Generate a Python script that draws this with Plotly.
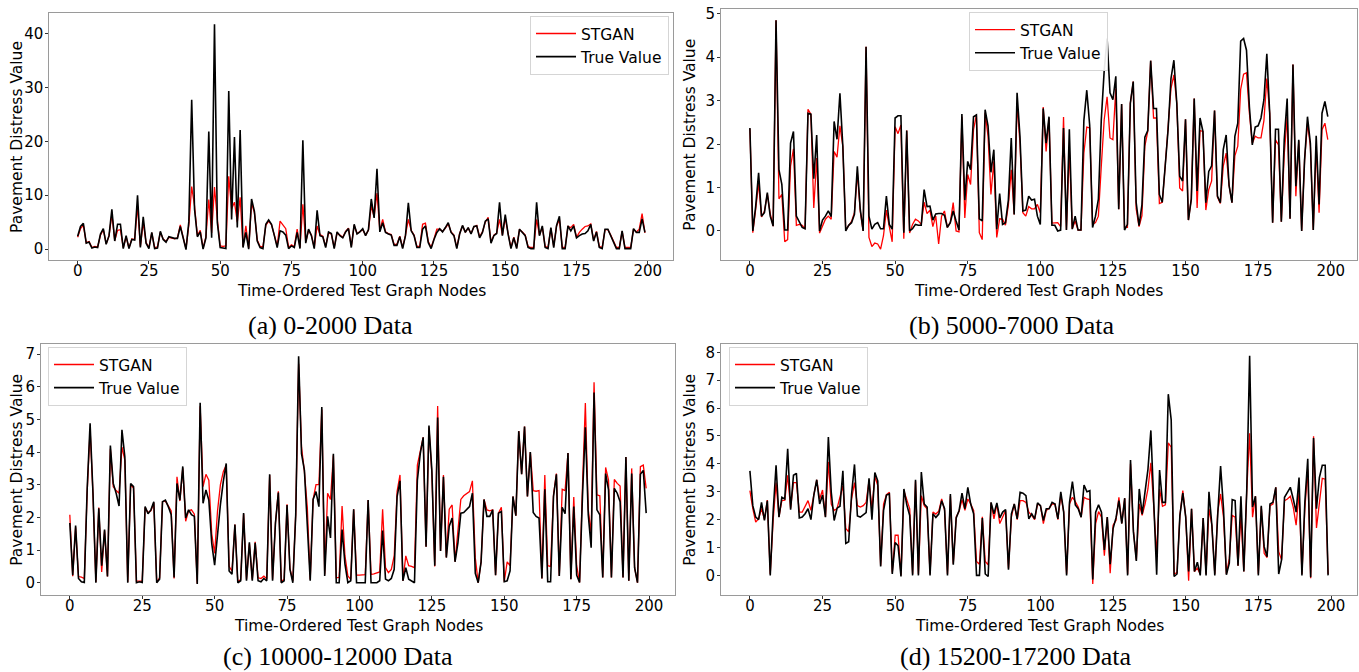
import plotly.graph_objects as go

nodes = list(range(200))
x_ticks = [0, 25, 50, 75, 100, 125, 150, 175, 200]

# (a) 0-2000 Data
true_a = [
    2.4, 4.2, 4.8, 1.1, 1.3, 0.2, 0.4, 0.3, 2.8, 3.8,
    0.9, 2.5, 7.4, 1.5, 4.6, 4.6, 0.1, 2.5, 0.1, 1.8,
    1.7, 10.0, 0.3, 6.0, 1.1, 0.1, 3.1, 0.1, 0.2, 3.3,
    1.8, 1.3, 2.3, 2.1, 2.0, 2.0, 4.2, 2.1, -0.1, 5.1,
    27.7, 7.4, 2.3, 3.2, 0.0, 2.1, 21.8, 2.1, 41.7, 4.9,
    0.3, 0.2, 0.1, 29.3, 5.5, 20.8, 4.0, 22.1, 0.3, 3.1,
    0.0, 9.3, 7.0, 1.5, 0.3, 0.1, 4.6, 5.4, 4.6, 2.5,
    0.3, 3.4, 3.2, 2.6, 0.1, 0.6, 0.3, 3.1, 0.1, 20.2,
    1.1, 3.7, 2.5, 0.1, 7.2, 2.5, 2.3, 0.3, 3.2, 2.9,
    0.1, 3.2, 2.5, 2.1, 3.2, 3.8, 0.3, 4.6, 2.8, 3.2,
    3.8, 2.5, 3.6, 9.3, 5.8, 14.9, 3.2, 4.9, 3.1, 2.8,
    2.6, 0.7, 0.7, 2.3, 0.1, 2.5, 8.6, 3.4, 2.5, 0.3,
    0.3, 3.7, 4.3, 1.2, 0.1, 1.8, 3.1, 3.8, 3.2, 4.0,
    4.9, 3.1, 2.5, 0.1, 2.8, 4.4, 3.1, 4.0, 2.8, 4.2,
    4.3, 2.1, 3.1, 5.2, 5.6, 1.1, 2.5, 2.9, 8.7, 2.5,
    6.4, 2.8, 0.1, 2.1, 0.1, 3.7, 3.1, 2.5, 0.3, 0.1,
    0.1, 8.7, 2.5, 4.3, 0.3, 0.1, 4.0, 0.3, 4.4, 6.1,
    0.1, 0.1, 4.3, 3.4, 4.3, 2.1, 2.5, 2.8, 2.9, 3.4,
    4.6, 1.5, 3.2, 0.3, 0.1, 3.7, 3.7, 2.5, 1.2, 0.1,
    0.1, 3.4, 0.1, 0.1, 0.1, 3.8, 3.1, 3.1, 5.6, 3.1,
]
stgan_a = [
    2.2, 3.8, 4.4, 1.2, 1.4, 0.3, 0.5, 0.4, 2.6, 3.6,
    1.0, 2.4, 6.5, 1.6, 3.5, 3.6, 0.3, 2.3, 0.2, 1.9,
    1.8, 8.0, 0.5, 5.0, 1.2, 0.3, 3.0, 0.3, 0.4, 3.1,
    1.9, 1.4, 2.2, 2.0, 1.9, 2.1, 4.5, 2.2, 0.1, 4.5,
    11.6, 8.0, 2.5, 3.5, 0.2, 2.3, 9.2, 3.0, 11.5, 5.5,
    0.6, 0.5, 0.6, 13.5, 7.5, 8.7, 5.0, 9.6, 0.5, 4.3,
    0.2, 8.5, 6.8, 1.7, 0.5, 0.4, 4.4, 5.2, 4.5, 2.6,
    0.5, 5.2, 4.6, 3.8, 0.3, 0.8, 0.5, 3.7, 0.3, 8.3,
    1.3, 3.5, 2.6, 0.3, 4.3, 2.7, 2.4, 0.5, 3.0, 2.8,
    0.3, 3.0, 2.6, 2.2, 3.3, 3.9, 0.5, 4.4, 2.9, 3.3,
    3.6, 2.6, 3.5, 8.0, 6.0, 10.4, 3.5, 5.5, 3.2, 2.9,
    2.7, 0.9, 0.9, 2.4, 0.3, 2.6, 5.5, 3.5, 2.6, 0.5,
    0.5, 4.6, 4.8, 1.4, 0.3, 1.9, 3.7, 3.7, 3.3, 3.9,
    4.7, 3.2, 2.6, 0.3, 2.9, 4.3, 3.2, 3.9, 2.9, 4.1,
    4.4, 2.3, 3.2, 5.0, 5.9, 1.3, 2.6, 3.0, 5.5, 2.6,
    5.8, 2.9, 0.3, 2.2, 0.3, 3.6, 3.2, 2.6, 0.5, 0.3,
    0.3, 5.5, 2.6, 4.1, 0.5, 0.3, 3.9, 0.5, 4.3, 5.5,
    0.3, 0.3, 4.2, 4.0, 4.6, 2.2, 3.1, 3.7, 4.2, 4.3,
    4.7, 1.6, 3.3, 0.5, 0.3, 3.6, 3.6, 2.6, 1.3, 0.3,
    0.3, 3.3, 0.3, 0.3, 0.3, 3.7, 3.2, 3.7, 6.6, 3.0,
]

# (b) 5000-7000 Data
true_b = [
    2.37, 0.0, 0.57, 1.34, 0.34, 0.42, 0.88, 0.34, 0.11, 4.85,
    1.41, 1.07, 0.02, 0.02, 2.02, 2.29, 0.34, 0.19, 0.08, 0.05,
    2.71, 2.69, 1.2, 2.21, 0.0, 0.25, 0.34, 0.46, 0.33, 2.52,
    2.11, 3.17, 1.95, 0.0, 0.13, 0.19, 0.38, 1.49, 0.5, 0.0,
    4.24, 0.34, 0.04, 0.15, 0.19, 0.05, 0.05, 0.8, 0.15, 0.04,
    2.6, 2.65, 2.65, -0.04, 2.31, 0.0, 0.05, 0.15, 0.13, 0.13,
    0.95, 0.56, 0.57, 0.25, 0.39, 0.4, 0.4, 0.36, 0.08, 0.19,
    0.46, 0.23, 0.02, 2.69, 0.71, 1.6, 1.41, 2.63, 2.67, 0.28,
    0.23, 2.79, 2.42, 1.35, 1.87, 0.04, 0.86, 0.15, 0.19, 0.71,
    2.14, 0.38, 3.18, 2.18, 0.46, 0.48, 0.8, 0.71, 0.73, 0.34,
    0.15, 2.82, 2.02, 2.63, 0.13, 0.13, 0.0, 0.02, 2.37, 0.02,
    2.34, 0.04, 0.34, 0.02, 0.02, 2.54, 3.24, 2.44, 0.08, 0.34,
    0.73, 2.56, 3.69, 4.43, 3.18, 3.02, 3.56, 0.5, 2.92, 0.02,
    0.15, 2.94, 3.44, 0.66, 0.12, 0.6, 2.16, 2.31, 3.92, 2.82,
    2.82, 0.84, 0.66, 1.49, 2.33, 3.51, 3.93, 2.94, 1.26, 1.15,
    2.57, 0.25, 0.73, 3.05, 0.92, 2.6, 2.29, 0.65, 1.37, 1.5,
    2.77, 0.8, 0.65, 1.87, 2.21, 1.05, 0.65, 2.18, 2.48, 4.37,
    4.43, 4.16, 2.86, 1.98, 2.39, 2.42, 2.6, 3.02, 4.08, 2.71,
    0.19, 2.34, 2.34, 0.21, 2.1, 3.05, 0.28, 3.83, 1.03, 2.1,
    0.0, 1.63, 2.63, 2.02, 0.02, 2.19, 0.61, 2.71, 2.98, 2.63,
]
stgan_b = [
    2.35, -0.04, 0.5, 1.1, 0.32, 0.45, 0.85, 0.4, 0.11, 4.85,
    0.74, 0.84, -0.25, -0.2, 1.49, 1.89, 0.13, 0.15, 0.13, 0.05,
    2.8, 2.69, 0.53, 1.68, -0.05, 0.13, 0.27, 0.34, 0.27, 1.83,
    1.7, 2.42, 1.95, 0.02, 0.13, 0.22, 0.42, 1.34, 0.45, 0.0,
    4.24, -0.15, -0.36, -0.28, -0.3, -0.42, -0.11, 0.48, 0.1, -0.25,
    2.4, 2.24, 2.44, -0.18, 2.31, -0.05, 0.15, 0.27, 0.23, 0.15,
    0.66, 0.4, 0.48, 0.1, 0.34, -0.3, 0.34, 0.46, 0.08, 0.19,
    0.65, 0.0, -0.02, 2.63, 0.3, 1.3, 1.07, 2.33, 2.67, -0.04,
    -0.2, 2.72, 2.18, 0.84, 1.6, -0.15, 0.28, 0.27, 0.13, 0.59,
    1.41, 0.38, 2.94, 2.02, 0.42, 0.34, 0.56, 0.51, 0.51, 0.61,
    0.42, 2.85, 1.83, 2.6, 0.18, 0.19, 0.19, 0.1, 2.62, 0.02,
    1.87, 0.05, 0.23, 0.02, 0.02, 1.79, 2.39, 2.37, 0.15, 0.19,
    0.34, 1.49, 2.56, 3.09, 2.14, 2.1, 3.28, 0.5, 2.92, 0.08,
    0.08, 2.94, 3.44, 0.51, 0.1, 0.35, 1.95, 2.29, 3.92, 2.6,
    2.6, 0.63, 0.66, 1.49, 2.33, 3.28, 3.59, 2.94, 0.99, 0.92,
    2.57, 0.25, 0.74, 3.05, 0.53, 2.31, 2.29, 0.48, 0.95, 1.15,
    2.77, 0.78, 0.63, 1.49, 1.79, 1.05, 0.65, 1.73, 1.95, 3.26,
    3.61, 3.64, 2.71, 2.02, 2.18, 2.14, 2.14, 2.54, 3.51, 2.71,
    0.19, 2.1, 1.98, 0.21, 1.76, 2.63, 0.28, 3.83, 0.8, 2.07,
    0.0, 1.63, 2.48, 1.95, 0.02, 1.95, 0.42, 2.33, 2.48, 2.1,
]

# (c) 10000-12000 Data
true_c = [
    1.83, 0.23, 1.75, 0.13, 0.03, 0.01, 2.89, 4.88, 2.74, 0.0,
    2.28, 0.52, 1.63, 0.19, 4.2, 3.04, 2.74, 2.35, 4.68, 3.85,
    0.0, 3.04, 2.94, 0.0, 0.03, 0.01, 2.33, 2.11, 2.23, 2.48,
    0.0, 0.11, 2.48, 2.53, 2.33, 2.08, 0.16, 3.04, 2.53, 3.56,
    1.98, 2.23, 2.08, 2.03, -0.04, 5.51, 2.43, 2.84, 2.53, 1.2,
    0.54, 1.5, 2.4, 3.1, 3.65, 0.36, 0.26, 1.78, 0.0, 0.06,
    2.13, 0.06, 1.24, 0.06, 1.22, 0.06, 0.03, 0.13, 0.06, 3.32,
    0.06, 1.83, 2.76, 0.0, 0.06, 2.38, 0.41, 0.0, 2.08, 6.93,
    3.95, 3.44, 1.93, 0.06, 2.55, 2.79, 2.33, 5.38, 0.21, 2.03,
    1.37, 3.95, 0.0, 0.0, 1.63, 0.57, 0.0, 0.06, 2.25, 0.0,
    0.0, 0.0, 0.0, 2.53, 0.0, 0.0, 0.0, 0.06, 1.6, 0.11,
    0.06, 0.13, 0.41, 2.64, 3.12, 0.06, 0.46, 0.11, 0.06, 0.0,
    3.14, 3.95, 4.45, 1.1, 4.81, 3.44, 0.52, 5.06, 0.97, 3.24,
    0.77, 1.73, 1.98, 0.64, 1.22, 2.13, 2.15, 2.23, 2.33, 2.74,
    0.29, 0.0, 0.64, 2.55, 2.03, 2.03, 2.23, 0.23, 2.13, 2.18,
    0.03, 0.06, 0.36, 2.64, 2.05, 4.64, 3.32, 4.78, 2.64, 4.0,
    2.15, 2.03, 1.98, 0.13, 2.86, 0.03, 0.03, 2.64, 3.32, 0.21,
    2.31, 2.11, 3.97, 0.11, 2.33, 0.23, 0.01, 2.64, 4.76, 2.08,
    1.07, 5.82, 2.23, 2.08, 0.16, 3.34, 2.84, 0.16, 2.89, 2.74,
    2.48, 0.16, 3.85, 0.06, 3.34, 0.46, 0.0, 3.32, 3.44, 2.13,
]
stgan_c = [
    2.08, 0.2, 1.7, 0.19, 0.17, 0.13, 2.8, 4.7, 2.7, 0.02,
    2.3, 0.33, 1.6, 0.19, 4.1, 2.94, 2.82, 2.74, 4.15, 3.75,
    0.02, 3.0, 2.9, 0.05, 0.05, 0.05, 2.3, 2.15, 2.2, 2.45,
    0.02, 0.15, 2.48, 2.5, 2.35, 2.2, 0.13, 3.24, 2.5, 3.5,
    1.88, 2.2, 2.23, 2.1, -0.02, 5.4, 2.94, 3.32, 3.14, 1.5,
    0.9, 2.2, 3.0, 3.4, 3.6, 0.5, 0.35, 1.78, 0.02, 0.1,
    2.1, 0.1, 1.2, 0.1, 1.25, 0.15, 0.13, 0.2, 0.12, 3.3,
    0.1, 1.83, 2.8, 0.05, 0.1, 2.4, 0.45, 0.05, 2.1, 6.7,
    4.15, 3.4, 2.3, 0.1, 2.55, 3.0, 3.0, 5.3, 0.25, 2.74,
    2.55, 3.9, 0.15, 0.16, 2.35, 0.82, 0.21, 0.1, 2.25, 0.23,
    0.23, 0.23, 0.25, 2.53, 0.25, 0.27, 0.29, 0.33, 2.25, 0.46,
    0.31, 0.41, 0.82, 2.8, 3.3, 0.06, 0.82, 0.52, 0.5, 0.46,
    3.6, 4.0, 4.45, 1.1, 4.75, 3.34, 0.5, 5.41, 0.97, 3.3,
    0.77, 2.25, 2.38, 0.64, 1.73, 2.55, 2.66, 2.74, 2.79, 3.12,
    0.76, 0.0, 0.64, 2.55, 2.23, 2.2, 2.23, 0.23, 2.13, 2.31,
    0.03, 0.64, 0.52, 2.64, 2.05, 4.64, 3.32, 4.78, 2.64, 4.0,
    2.82, 2.8, 2.82, 0.13, 3.3, 0.52, 0.5, 2.69, 3.34, 0.21,
    2.86, 2.82, 3.97, 0.11, 2.62, 0.52, 0.01, 2.94, 5.5, 2.23,
    1.52, 6.14, 2.69, 2.66, 0.16, 3.53, 3.14, 0.16, 3.16, 3.04,
    2.96, 0.16, 3.85, 0.06, 3.5, 0.46, 0.0, 3.55, 3.6, 2.89,
]

# (d) 15200-17200 Data
true_d = [
    3.75, 2.5, 2.09, 2.0, 2.62, 1.97, 2.68, 0.0, 2.27, 3.95,
    2.09, 2.8, 2.74, 4.54, 2.36, 3.59, 3.66, 2.06, 2.09, 2.21,
    2.39, 2.0, 2.88, 3.43, 2.56, 2.88, 2.09, 4.96, 2.98, 1.97,
    2.41, 2.48, 3.75, 1.15, 1.21, 2.92, 3.98, 2.13, 2.09, 2.17,
    2.25, 3.48, 2.0, 3.69, 3.39, 0.32, 2.33, 2.88, 2.92, 0.05,
    1.18, 1.06, -0.04, 3.1, 2.53, 2.15, 0.0, 3.43, 0.0, 3.71,
    2.56, 2.45, 0.0, 2.21, 2.08, 2.2, 2.68, 2.39, 0.0, 2.92,
    0.38, 2.06, 2.33, 2.95, 2.39, 3.16, 2.56, 2.21, 0.0, 0.0,
    2.06, 0.05, -0.04, 2.62, 2.21, 2.6, 2.06, 2.27, 2.36, 0.2,
    2.21, 2.56, 2.03, 2.98, 2.95, 2.86, 2.03, 2.21, 2.03, 2.6,
    2.5, 1.97, 2.39, 2.39, 2.62, 2.56, 2.03, 3.0, 2.27, 0.0,
    2.62, 3.36, 2.53, 2.39, 2.09, 3.24, 3.0, 3.04, -0.15, 2.27,
    2.53, 2.27, 0.91, 2.09, 0.4, 1.68, 2.06, 2.68, 1.86, 2.77,
    0.0, 4.14, 1.56, 0.52, 3.1, 2.2, 3.0, 3.8, 5.2, 2.39,
    0.02, 3.78, 2.62, 2.62, 6.5, 5.58, -0.04, 0.05, 2.15, 2.95,
    2.09, 0.14, 2.39, 0.14, 0.47, 0.0, 2.06, 0.0, 3.0, 1.8,
    0.0, 2.15, 3.92, 2.39, 0.02, 0.44, 2.72, 2.68, 0.35, 2.84,
    0.14, 3.04, 7.88, 2.45, 2.84, 0.0, 2.5, 1.03, 0.67, 2.56,
    2.62, 3.16, 0.05, 0.56, 2.8, 2.98, 3.16, 2.74, 2.27, 3.51,
    0.0, 2.62, 4.18, -0.07, 4.93, 2.39, 3.51, 3.95, 3.95, 0.0,
]
stgan_d = [
    3.04, 2.39, 1.91, 2.03, 2.4, 2.0, 2.7, 0.05, 1.97, 3.33,
    2.1, 2.68, 2.7, 3.59, 2.4, 3.33, 3.33, 2.27, 2.27, 2.5,
    2.68, 2.33, 2.86, 3.43, 2.74, 3.06, 2.1, 4.07, 2.56, 2.33,
    2.4, 2.77, 3.22, 1.68, 1.56, 2.74, 3.33, 2.5, 2.45, 2.5,
    2.62, 3.4, 2.4, 3.55, 3.22, 0.35, 2.56, 2.9, 2.98, 0.1,
    1.44, 1.44, 0.0, 3.04, 2.74, 2.39, 0.05, 3.38, 0.05, 2.86,
    2.5, 2.39, 0.05, 2.27, 2.2, 2.3, 2.74, 2.33, 0.05, 2.86,
    0.42, 2.1, 2.3, 2.72, 2.33, 2.74, 2.56, 2.33, 0.5, 0.4,
    2.1, 0.5, 0.38, 2.6, 2.03, 2.56, 1.86, 2.1, 2.33, 0.25,
    2.1, 2.56, 2.0, 2.68, 2.68, 2.62, 2.27, 2.15, 2.0, 2.56,
    2.5, 1.86, 2.33, 2.41, 2.56, 2.56, 2.0, 2.88, 2.27, 0.05,
    2.56, 2.8, 2.65, 2.45, 2.09, 2.8, 2.74, 2.72, -0.31, 1.86,
    2.29, 2.09, 0.71, 2.09, 0.08, 1.8, 1.97, 2.8, 1.86, 2.77,
    0.05, 4.0, 1.6, 0.55, 2.56, 2.15, 2.56, 3.1, 4.04, 2.45,
    0.73, 3.1, 2.48, 2.53, 4.75, 4.6, 0.05, 0.1, 2.15, 3.04,
    2.09, -0.19, 2.39, 0.14, 0.26, 0.05, 2.06, 0.05, 2.39, 1.8,
    0.05, 2.27, 2.92, 2.09, 0.05, 0.6, 2.15, 2.09, 0.35, 2.15,
    0.14, 3.04, 5.1, 2.09, 2.84, 0.05, 2.45, 0.79, 0.64, 2.5,
    2.56, 3.16, 0.85, 0.56, 2.68, 2.74, 2.84, 2.45, 1.8, 2.98,
    0.05, 2.39, 3.8, -0.1, 4.99, 1.7, 2.62, 3.48, 3.45, 0.05,
]

panels = [
    # series, y range, y ticks, plot box (px), legend corner (px), caption
    dict(true=true_a, pred=stgan_a, yr=[-2.1, 43.7], yt=[0, 10, 20, 30, 40],
         xd=[49.3, 673.3], yd=[9.5, 258], leg=(530, 12),
         cap="(a) 0-2000 Data", capxy=(330, 323), ytx=17),
    dict(true=true_b, pred=stgan_b, yr=[-0.68, 5.11], yt=[0, 1, 2, 3, 4, 5],
         xd=[721, 1356.7], yd=[5, 258], leg=(969, 8),
         cap="(b) 5000-7000 Data", capxy=(1012, 323), ytx=690),
    dict(true=true_c, pred=stgan_c, yr=[-0.39, 7.3], yt=[0, 1, 2, 3, 4, 5, 6, 7],
         xd=[41, 675], yd=[342.3, 595], leg=(48, 345),
         cap="(c) 10000-12000 Data", capxy=(338, 656), ytx=17),
    dict(true=true_d, pred=stgan_d, yr=[-0.72, 8.29], yt=[0, 1, 2, 3, 4, 5, 6, 7, 8],
         xd=[721, 1357], yd=[342.3, 595], leg=(729, 345),
         cap="(d) 15200-17200 Data", capxy=(1016, 656), ytx=690),
]

W, H = 1359, 672
tick_font = dict(family="DejaVu Sans", size=15, color="#000000")
label_font = dict(family="DejaVu Sans", size=15.5, color="#000000")

fig = go.Figure()
annotations = []
layout = {}

for k, p in enumerate(panels, start=1):
    sfx = "" if k == 1 else str(k)
    leg_name = "legend" if k == 1 else f"legend{k}"
    fig.add_trace(go.Scatter(
        x=nodes, y=p["pred"], mode="lines", name="STGAN",
        line=dict(color="#ff0000", width=1.3),
        xaxis=f"x{sfx}", yaxis=f"y{sfx}", legend=leg_name))
    fig.add_trace(go.Scatter(
        x=nodes, y=p["true"], mode="lines", name="True Value",
        line=dict(color="#000000", width=1.6),
        xaxis=f"x{sfx}", yaxis=f"y{sfx}", legend=leg_name))

    axis_common = dict(
        showline=True, mirror=True, linecolor="#9a9a9a", linewidth=1,
        ticks="outside", ticklen=3, tickwidth=1, tickcolor="#333333",
        showgrid=False, zeroline=False, tickfont=tick_font)
    layout[f"xaxis{sfx}"] = dict(
        axis_common, domain=[p["xd"][0] / W, p["xd"][1] / W],
        range=[-9.95, 208.95], tickvals=x_ticks, ticklabelstandoff=-6,
        anchor=f"y{sfx}")
    layout[f"yaxis{sfx}"] = dict(
        axis_common, domain=[(H - p["yd"][1]) / H, (H - p["yd"][0]) / H],
        range=p["yr"], tickvals=p["yt"], ticklabelstandoff=-1,
        anchor=f"x{sfx}")

    layout[leg_name] = dict(
        x=p["leg"][0] / W, y=(H - p["leg"][1]) / H, xanchor="left", yanchor="top",
        bgcolor="rgba(255,255,255,0.9)", bordercolor="#d5d5d5", borderwidth=1,
        font=dict(family="DejaVu Sans", size=15.5, color="#000000"),
        itemwidth=40, tracegroupgap=0)

    xc = (p["xd"][0] + p["xd"][1]) / 2
    annotations.append(dict(
        text="Time-Ordered Test Graph Nodes", xref="paper", yref="paper",
        x=xc / W, y=(H - (p["yd"][1] + 31)) / H, xanchor="center", yanchor="middle",
        showarrow=False, font=label_font))
    annotations.append(dict(
        text="Pavement Distress Value", xref="paper", yref="paper",
        x=p["ytx"] / W, y=(H - (p["yd"][0] + p["yd"][1]) / 2) / H,
        xanchor="center", yanchor="middle", textangle=-90,
        showarrow=False, font=label_font))
    annotations.append(dict(
        text=p["cap"], xref="paper", yref="paper",
        x=p["capxy"][0] / W, y=(H - p["capxy"][1]) / H,
        xanchor="center", yanchor="middle", showarrow=False,
        font=dict(family="Liberation Serif", size=26, color="#000000")))

fig.update_layout(
    width=W, height=H, margin=dict(l=0, r=0, t=0, b=0),
    paper_bgcolor="white", plot_bgcolor="white",
    annotations=annotations, **layout)

fig.write_html("out.html")
